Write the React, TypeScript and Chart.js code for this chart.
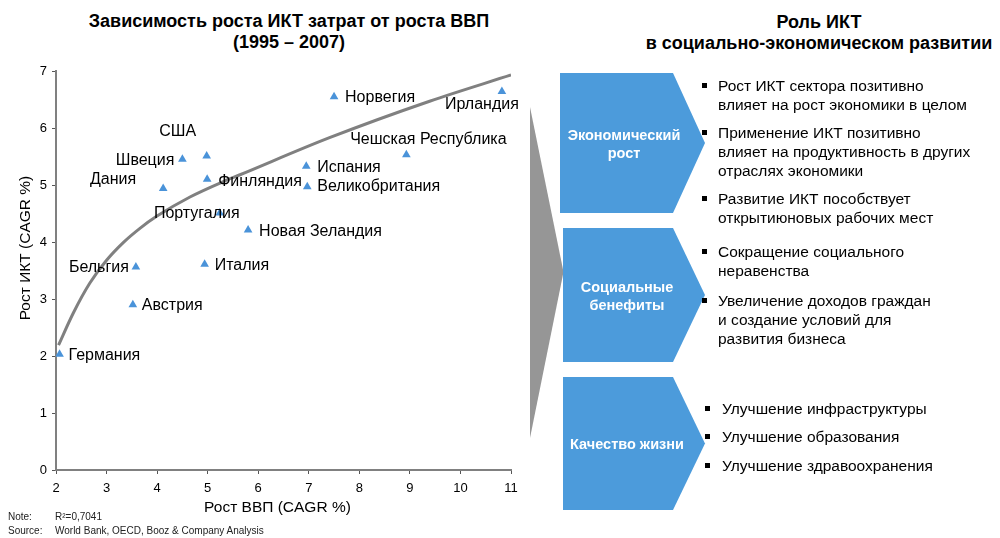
import React, { useEffect, useRef } from "react";
import { Chart, registerables } from "chart.js";

Chart.register(...registerables);

// ---- Data ----
const countries = [
  "Германия", "Австрия", "Бельгия", "Дания", "Швеция", "США", "Финляндия",
  "Португалия", "Новая Зеландия", "Италия", "Норвегия", "Ирландия",
  "Чешская Республика", "Испания", "Великобритания",
];
const gdpGrowth = [2.07, 3.52, 3.58, 4.12, 4.5, 4.98, 4.99, 5.24, 5.8, 4.94, 7.5, 10.82, 8.93, 6.95, 6.97];
const ictGrowth = [2.03, 2.9, 3.56, 4.94, 5.45, 5.51, 5.1, 4.51, 4.21, 3.61, 6.55, 6.64, 5.53, 5.33, 4.97];

// trend line (R² = 0,7041)
const trendGdp = [2.05, 2.34, 2.67, 3.0, 3.33, 3.66, 3.99, 4.65, 5.31, 5.64, 7.41, 9.39, 11.0];
const trendIct = [2.19, 2.75, 3.28, 3.68, 3.99, 4.24, 4.45, 4.79, 5.06, 5.18, 5.83, 6.47, 6.93];

const xTickValues = [2, 3, 4, 5, 6, 7, 8, 9, 10, 11];
const yTickValues = [0, 1, 2, 3, 4, 5, 6, 7];

const chartTitle = ["Зависимость роста ИКТ затрат от роста ВВП", "(1995 – 2007)"];
const xAxisTitle = "Рост ВВП (CAGR %)";
const yAxisTitle = "Рост ИКТ (CAGR %)";
const noteText = "R²=0,7041";
const sourceText = "World Bank, OECD, Booz & Company Analysis";

const roleTitle = ["Роль ИКТ", "в социально-экономическом развитии"];
const roleBoxes = ["Экономический\nрост", "Социальные\nбенефиты", "Качество жизни"];
const roleBullets = [
  "Рост ИКТ сектора позитивно\nвлияет на рост экономики в целом",
  "Применение ИКТ позитивно\nвлияет на продуктивность в других\nотраслях экономики",
  "Развитие ИКТ пособствует\nоткрытиюновых рабочих мест",
  "Сокращение социального\nнеравенства",
  "Увеличение доходов граждан\nи создание условий для\nразвития бизнеса",
  "Улучшение инфраструктуры",
  "Улучшение образования",
  "Улучшение здравоохранения",
];

// ---- Styles / placement (not data) ----
const labelPlacement: [number, number, CanvasTextAlign][] = [
  [9, 1, "left"],
  [9, 1, "left"],
  [-7, 1, "right"],
  [-27, -9, "right"],
  [-8, 1, "right"],
  [-29, -24, "center"],
  [11, 2, "left"],
  [-23, 1, "center"],
  [11, 2, "left"],
  [10, 1, "left"],
  [11, 1, "left"],
  [-20, 13, "center"],
  [22, -15, "center"],
  [11, 1, "left"],
  [10, 0, "left"],
];
const bulletPlacement = [
  { top: 75.5, bx: 702, tx: 718 },
  { top: 123.2, bx: 702, tx: 718 },
  { top: 188.8, bx: 702, tx: 718 },
  { top: 242.2, bx: 702, tx: 718 },
  { top: 290.5, bx: 702, tx: 718 },
  { top: 398.8, bx: 705, tx: 722 },
  { top: 427.2, bx: 705, tx: 722 },
  { top: 455.5, bx: 705, tx: 722 },
];
const boxShapes = [
  { left: 560, top: 73, bottom: 213, textY: 144 },
  { left: 563, top: 228, bottom: 362, textY: 296 },
  { left: 563, top: 377, bottom: 510, textY: 444 },
];

const FONT = "'Liberation Sans', Arial, Helvetica, sans-serif";
const BLUE = "#4C9BDB";
const POINT_BLUE = "#4A93D9";

const pointLabelPlugin = {
  id: "pointLabels",
  afterDatasetsDraw(chart: any) {
    const meta = chart.getDatasetMeta(1);
    const ctx = chart.ctx;
    ctx.save();
    ctx.font = `16px ${FONT}`;
    ctx.fillStyle = "#000";
    ctx.textBaseline = "middle";
    meta.data.forEach((el: any, i: number) => {
      const [dx, dy, align] = labelPlacement[i];
      ctx.textAlign = align;
      ctx.fillText(countries[i], el.x + dx, el.y + dy);
    });
    ctx.restore();
  },
};

function ScatterChart() {
  const ref = useRef<HTMLCanvasElement | null>(null);
  useEffect(() => {
    if (!ref.current) return;
    const chart = new Chart(ref.current, {
      type: "scatter",
      data: {
        datasets: [
          {
            label: "trend",
            data: trendGdp.map((x, i) => ({ x, y: trendIct[i] })),
            showLine: true,
            borderColor: "#808080",
            borderWidth: 3,
            pointRadius: 0,
            cubicInterpolationMode: "monotone",
            fill: false,
          } as any,
          {
            label: "countries",
            data: gdpGrowth.map((x, i) => ({ x, y: ictGrowth[i] })),
            pointStyle: "triangle",
            pointRadius: 5,
            backgroundColor: POINT_BLUE,
            borderColor: POINT_BLUE,
            borderWidth: 0,
          },
        ],
      },
      options: {
        responsive: false,
        devicePixelRatio: 1,
        animation: false,
        layout: { padding: { top: 71, right: 19, bottom: 0, left: 0 } },
        plugins: { legend: { display: false }, tooltip: { enabled: false }, title: { display: false } },
        scales: {
          x: {
            type: "linear",
            min: 2,
            max: 11,
            afterBuildTicks: (s: any) => { s.ticks = xTickValues.map((v) => ({ value: v })); },
            afterFit: (s: any) => { s.height = 68; },
            border: { display: true, color: "#808080", width: 2 },
            grid: { display: true, drawOnChartArea: false, drawTicks: true, tickLength: 4, color: "#555", lineWidth: 1 },
            ticks: { color: "#000", font: { size: 13, family: FONT }, padding: 7, maxRotation: 0 },
          },
          y: {
            type: "linear",
            min: 0,
            max: 7,
            afterBuildTicks: (s: any) => { s.ticks = yTickValues.map((v) => ({ value: v })); },
            afterFit: (s: any) => { s.width = 56; },
            border: { display: true, color: "#808080", width: 2 },
            grid: { display: true, drawOnChartArea: false, drawTicks: true, tickLength: 4, color: "#555", lineWidth: 1 },
            ticks: { color: "#000", font: { size: 13, family: FONT }, padding: 5 },
          },
        },
      },
      plugins: [pointLabelPlugin],
    });
    return () => chart.destroy();
  }, []);
  return (
    <canvas
      ref={ref}
      width={530}
      height={538}
      style={{ position: "absolute", left: 0, top: 0, width: 530, height: 538, display: "block" }}
    />
  );
}

export default function App() {
  return (
    <div
      style={{
        position: "fixed",
        left: 0,
        top: 0,
        width: 1000,
        height: 538,
        background: "#fff",
        fontFamily: FONT,
        color: "#000",
        overflow: "hidden",
      }}
    >
      {/* left title */}
      <div
        style={{
          position: "absolute", left: 0, width: 578, top: 11, textAlign: "center",
          fontWeight: "bold", fontSize: 18, lineHeight: "21px", whiteSpace: "pre",
        }}
      >
        {chartTitle.join("\n")}
      </div>
      {/* right title */}
      <div
        style={{
          position: "absolute", left: 636, width: 366, top: 12, textAlign: "center",
          fontWeight: "bold", fontSize: 18, lineHeight: "21px", whiteSpace: "pre",
        }}
      >
        {roleTitle.join("\n")}
      </div>

      <ScatterChart />

      {/* axis titles */}
      <div
        style={{
          position: "absolute", left: 277.5, top: 507, transform: "translate(-50%, -50%)",
          fontSize: 15.5, whiteSpace: "nowrap",
        }}
      >
        {xAxisTitle}
      </div>
      <div
        style={{
          position: "absolute", left: 25, top: 248, transform: "translate(-50%, -50%) rotate(-90deg)",
          fontSize: 15.5, whiteSpace: "nowrap",
        }}
      >
        {yAxisTitle}
      </div>

      {/* note / source */}
      <div style={{ position: "absolute", left: 8, top: 510, fontSize: 10, lineHeight: "14px", color: "#222" }}>
        <div><span style={{ display: "inline-block", width: 47 }}>Note:</span>{noteText}</div>
        <div><span style={{ display: "inline-block", width: 47 }}>Source:</span>{sourceText}</div>
      </div>

      {/* shapes */}
      <svg width={1000} height={538} style={{ position: "absolute", left: 0, top: 0 }}>
        <polygon points="530,107 563.5,272 530,438" fill="#969696" />
        {boxShapes.map((b, i) => {
          const mid = (b.top + b.bottom) / 2;
          return (
            <polygon
              key={i}
              points={`${b.left},${b.top} 673,${b.top} 705,${mid} 673,${b.bottom} ${b.left},${b.bottom}`}
              fill={BLUE}
            />
          );
        })}
      </svg>

      {/* box texts */}
      {boxShapes.map((b, i) => {
        const lines = roleBoxes[i].split("\n").length;
        return (
          <div
            key={i}
            style={{
              position: "absolute", left: b.left - 4, width: 136, top: b.textY - (lines * 18) / 2,
              textAlign: "center", color: "#fff", fontWeight: "bold", fontSize: 14.5, lineHeight: "18px",
              whiteSpace: "pre",
            }}
          >
            {roleBoxes[i]}
          </div>
        );
      })}

      {/* bullets */}
      {roleBullets.map((t, i) => {
        const p = bulletPlacement[i];
        return (
          <React.Fragment key={i}>
            <div
              style={{
                position: "absolute", left: p.bx, top: p.top + 7, width: 5, height: 5, background: "#000",
              }}
            />
            <div
              style={{
                position: "absolute", left: p.tx, top: p.top, fontSize: 15.5, lineHeight: "19px", whiteSpace: "pre",
              }}
            >
              {t}
            </div>
          </React.Fragment>
        );
      })}
    </div>
  );
}
